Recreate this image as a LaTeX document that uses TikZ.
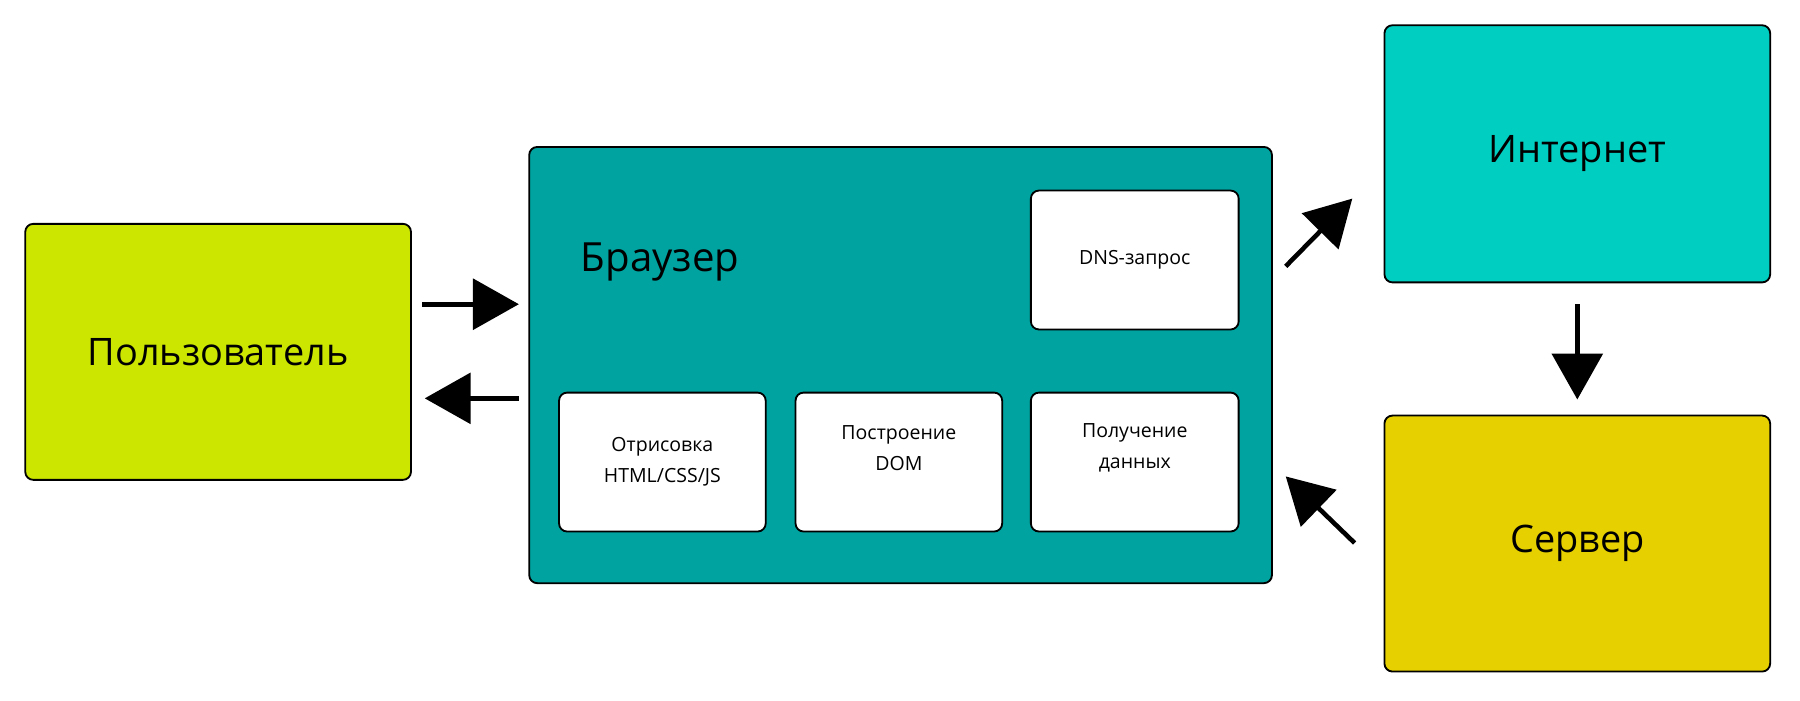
\documentclass[tikz,border=0pt]{standalone}
\usepackage{fontspec}
\setmainfont{Open Sans}
\usetikzlibrary{arrows.meta}
\definecolor{lime}{HTML}{CCE600}
\definecolor{teal2}{HTML}{00A3A0}
\definecolor{cyan2}{HTML}{00CEC0}
\definecolor{gold}{HTML}{E6D000}
\begin{document}
\begin{tikzpicture}[x=1pt,y=-1pt,
  box/.style={draw=black,line width=1.6pt,rounded corners=7pt,inner sep=0pt},
  arr/.style={line width=4pt,-{Triangle[length=40pt,width=44pt]}}]
\useasboundingbox (0,0) rectangle (1568,610);
\path[box,fill=lime] (22,195) rectangle (358,418) node[midway,font=\fontsize{33}{38}\selectfont] (user) {Пользователь};
\path[box,fill=teal2] (461,128) rectangle (1108,508);
\node[font=\fontsize{35}{40}\selectfont] (br) at (575,228) {Браузер};
\path[box,fill=cyan2] (1206,22) rectangle (1542,246) node[midway,font=\fontsize{33}{38}\selectfont] (inet) {Интернет};
\path[box,fill=gold] (1206,362) rectangle (1542,585) node[midway,font=\fontsize{33}{38}\selectfont] (srv) {Сервер};
\path[box,fill=white] (898,166) rectangle (1079,287) node[midway,font=\fontsize{17}{22}\selectfont] (dns) {DNS-запрос};
\path[box,fill=white] (487,342) rectangle (667,463) node[midway,align=center,font=\fontsize{17}{27}\selectfont] (r1) {Отрисовка\\HTML/CSS/JS};
\path[box,fill=white] (693,342) rectangle (873,463) node[midway,yshift=12pt,align=center,font=\fontsize{17}{27}\selectfont] (r2) {Построение\\DOM};
\path[box,fill=white] (898,342) rectangle (1079,463) node[midway,yshift=12pt,align=center,font=\fontsize{17}{27}\selectfont] (r3) {Получение\\данных};
\coordinate (a1) at (368,265); \coordinate (b1) at (452,265);
\coordinate (a2) at (452,347); \coordinate (b2) at (370,347);
\coordinate (a3) at (1120,232); \coordinate (b3) at (1178,173);
\coordinate (a4) at (1374,265); \coordinate (b4) at (1374,348);
\coordinate (a5) at (1180,473); \coordinate (b5) at (1120,415);
\draw[arr] (a1) -- (b1);
\draw[arr] (a2) -- (b2);
\draw[arr] (a3) -- (b3);
\draw[arr] (a4) -- (b4);
\draw[arr] (a5) -- (b5);
\end{tikzpicture}
\end{document}
